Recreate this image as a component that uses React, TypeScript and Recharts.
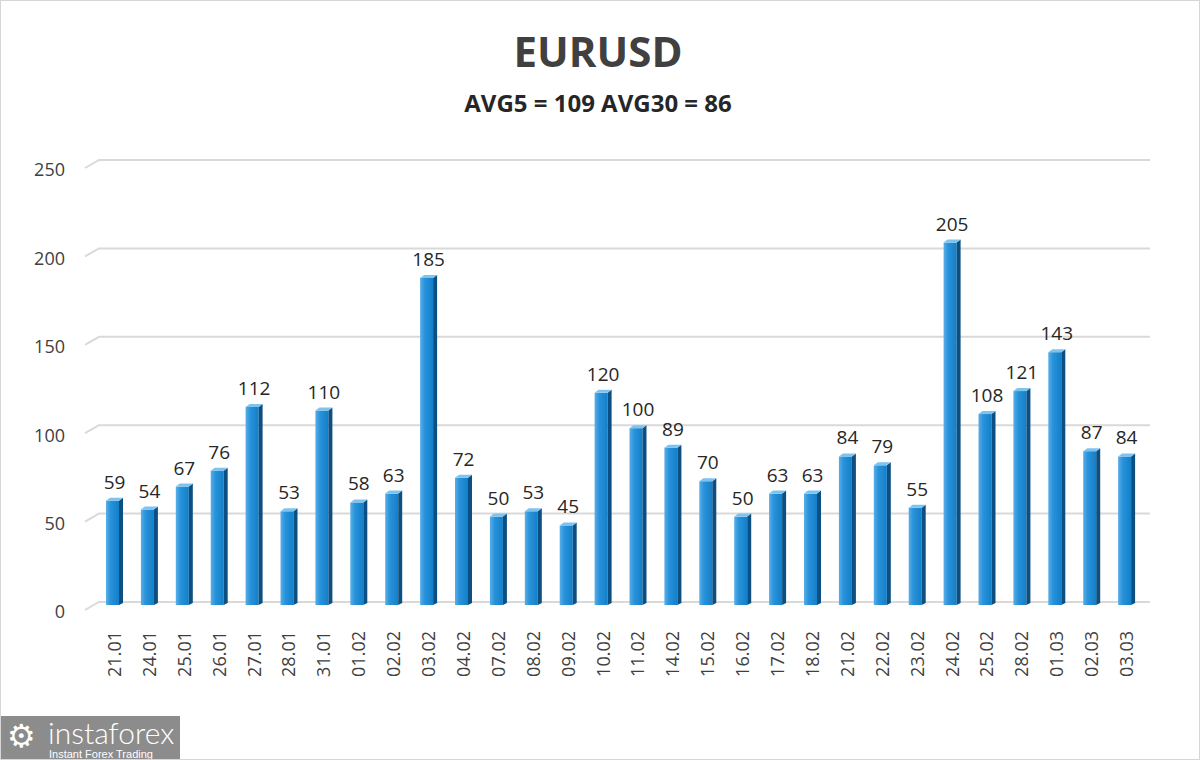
import { BarChart, Bar, XAxis, YAxis, CartesianGrid, LabelList } from 'recharts';

const dates = [
  '21.01', '24.01', '25.01', '26.01', '27.01', '28.01', '31.01', '01.02', '02.02', '03.02',
  '04.02', '07.02', '08.02', '09.02', '10.02', '11.02', '14.02', '15.02', '16.02', '17.02',
  '18.02', '21.02', '22.02', '23.02', '24.02', '25.02', '28.02', '01.03', '02.03', '03.03',
];
const volatility = [
  59, 54, 67, 76, 112, 53, 110, 58, 63, 185,
  72, 50, 53, 45, 120, 100, 89, 70, 50, 63,
  63, 84, 79, 55, 205, 108, 121, 143, 87, 84,
];
const yTicks = [0, 50, 100, 150, 200, 250];

const data = dates.map((d, i) => ({ date: d, value: volatility[i] }));

const FONT = '"Open Sans", "Noto Sans", sans-serif';

function Bar3D(props: any) {
  const { x, y, width, height } = props;
  if (height <= 0) return null;
  const d = 4; // depth of side face
  const front = width - d;
  return (
    <g>
      <rect x={x} y={y} width={front} height={height} fill="url(#barFront)" />
      <path
        d={`M${x + front},${y} L${x + width},${y - 3} L${x + width},${y + height - 2} L${x + front},${y + height} Z`}
        fill="#0c4f82"
      />
      <path
        d={`M${x},${y} L${x + d},${y - 3} L${x + width},${y - 3} L${x + front},${y} Z`}
        fill="#7cc3f0"
      />
    </g>
  );
}

function GridLine(props: any) {
  const { x1, x2, y1, key } = props;
  const y = y1 - 3;
  return (
    <path
      key={key}
      d={`M${x1 - 12},${y + 8} L${x1 + 2},${y} L${x2 + 6},${y}`}
      stroke="#d9d9d9"
      strokeWidth={2}
      fill="none"
    />
  );
}

function DateTick(props: any) {
  const { x, y, payload } = props;
  return (
    <text
      x={x}
      y={y}
      transform={`rotate(-90, ${x}, ${y})`}
      textAnchor="end"
      dy="0.36em"
      fontSize={18}
      fontFamily={FONT}
      fill="#404040"
    >
      {payload.value}
    </text>
  );
}

function ValueTick(props: any) {
  const { x, y, payload } = props;
  return (
    <text
      x={x}
      y={y + 7}
      textAnchor="end"
      dy="0.36em"
      fontSize={18}
      fontFamily={FONT}
      fill="#404040"
    >
      {payload.value}
    </text>
  );
}

export default function App() {
  return (
    <div
      style={{
        position: 'absolute',
        left: 0,
        top: 0,
        width: 1200,
        height: 760,
        background: '#fff',
        boxSizing: 'border-box',
        border: '1px solid #d6d6d6',
        fontFamily: FONT,
        overflow: 'hidden',
      }}
    >
      <div
        style={{
          position: 'absolute',
          left: 0,
          width: 1194,
          top: 22,
          textAlign: 'center',
          fontSize: 42,
          fontWeight: 700,
          color: '#404040',
          lineHeight: '56px',
        }}
      >
        EURUSD
      </div>
      <div
        style={{
          position: 'absolute',
          left: 0,
          width: 1194,
          top: 86,
          textAlign: 'center',
          fontSize: 24,
          fontWeight: 700,
          color: '#262626',
          lineHeight: '32px',
        }}
      >
        AVG5 = 109 AVG30 = 86
      </div>
      <div style={{ position: 'absolute', left: -1, top: -1 }}>
        <BarChart
          width={1200}
          height={760}
          data={data}
          margin={{ top: 163, right: 56, left: 0, bottom: 0 }}
          barSize={17}
        >
          <defs>
            <linearGradient id="barFront" x1="0" y1="0" x2="1" y2="0">
              <stop offset="0%" stopColor="#5aaee8" />
              <stop offset="35%" stopColor="#2893db" />
              <stop offset="100%" stopColor="#137fc8" />
            </linearGradient>
          </defs>
          <CartesianGrid vertical={false} horizontal={GridLine as any} />
          <XAxis
            dataKey="date"
            axisLine={false}
            tickLine={false}
            interval={0}
            height={155}
            tick={DateTick}
            tickMargin={20}
          />
          <YAxis
            domain={[0, 250]}
            ticks={yTicks}
            axisLine={false}
            tickLine={false}
            width={97}
            tick={ValueTick}
            tickMargin={26}
          />
          <Bar dataKey="value" shape={Bar3D} isAnimationActive={false}>
            <LabelList
              dataKey="value"
              position="top"
              offset={12}
              fontSize={19}
              fontFamily={FONT}
              fill="#262626"
            />
          </Bar>
        </BarChart>
      </div>
      <div
        style={{
          position: 'absolute',
          left: 0,
          top: 715,
          width: 179,
          height: 45,
          background: '#8c8c8c',
          color: '#fff',
        }}
      >
        <span style={{ position: 'absolute', left: 6, top: 2, fontSize: 32, lineHeight: '36px', fontFamily: '"DejaVu Sans"' }}>
          ⚙
        </span>
        <span style={{ position: 'absolute', left: 47, top: 1, fontSize: 30, lineHeight: '30px', fontFamily: 'Lato, sans-serif', fontWeight: 300 }}>
          instaforex
        </span>
        <span style={{ position: 'absolute', left: 48, top: 32, fontSize: 11, lineHeight: '12px', fontFamily: 'Arial, "Liberation Sans", sans-serif' }}>
          Instant Forex Trading
        </span>
      </div>
    </div>
  );
}
